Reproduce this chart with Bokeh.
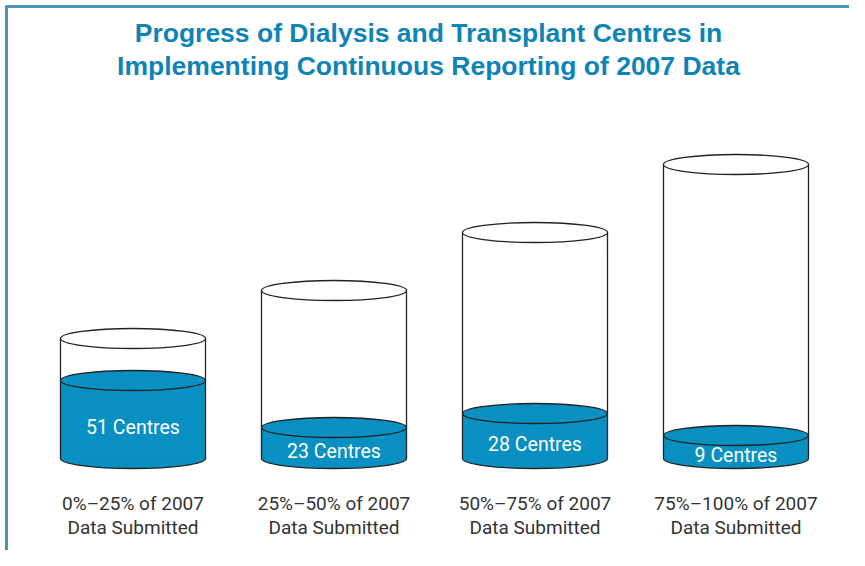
from bokeh.plotting import figure
from bokeh.models import Range1d
from bokeh.core.properties import value
from bokeh.embed import file_html
from bokeh.resources import INLINE

# ---- data ----
categories = ["0%–25% of 2007", "25%–50% of 2007", "50%–75% of 2007", "75%–100% of 2007"]
sub_label = "Data Submitted"
centres = [51, 23, 28, 9]
fill_level = [78, 31, 45, 23]        # height of blue liquid
tank_height = [120, 168, 226, 294]   # height of each cylinder
title_lines = ["Progress of Dialysis and Transplant Centres in",
               "Implementing Continuous Reporting of 2007 Data"]

# ---- styling ----
BLUE = "#0790C1"
TITLE_BLUE = "#0E84B6"
FRAME = "#4B93B4"
INK = "#222222"
TEXT = "#333333"
NARROW = value("Roboto")

W, H = 849, 550
TOP = 458
p = figure(width=W, height=H, output_backend="svg", toolbar_location=None,
           x_range=Range1d(0, W), y_range=Range1d(TOP - H, TOP),
           min_border=0)
p.axis.visible = False
p.grid.visible = False
p.outline_line_color = None
p.background_fill_color = "white"
p.border_fill_color = "white"

n = len(centres)
xs = [132.5 + i * 201 for i in range(n)]
cw = 145
eh = 20
half = cw / 2

# frame lines (top and left)
p.segment(x0=[6, 6], y0=[TOP - H, TOP - 6], x1=[6, W], y1=[TOP - 5, TOP - 6],
          line_color=FRAME, line_width=3)

# bottom ellipses
p.ellipse(x=xs, y=[0] * n, width=cw, height=eh, fill_color=BLUE,
          line_color=INK, line_width=1.3)
# liquid body
p.quad(left=[x - half for x in xs], right=[x + half for x in xs],
       bottom=[0] * n, top=fill_level, fill_color=BLUE, line_color=None)
# liquid surface
p.ellipse(x=xs, y=fill_level, width=cw, height=eh, fill_color=BLUE,
          line_color=INK, line_width=1.3)
# sides
p.segment(x0=[x - half for x in xs], y0=[0] * n, x1=[x - half for x in xs],
          y1=tank_height, line_color=INK, line_width=1.3)
p.segment(x0=[x + half for x in xs], y0=[0] * n, x1=[x + half for x in xs],
          y1=tank_height, line_color=INK, line_width=1.3)
# top ellipse
p.ellipse(x=xs, y=tank_height, width=cw, height=eh, fill_color="white",
          line_color=INK, line_width=1.3)

# centre labels
p.text(x=xs, y=[f / 2 - 8 for f in fill_level],
       text=[f"{c} Centres" for c in centres],
       text_font=NARROW, text_font_size="19.5px", text_color="white",
       text_align="center", text_baseline="alphabetic")

# category labels
p.text(x=xs, y=[-45] * n, text=categories, text_font=NARROW,
       text_font_size="19px", text_color=TEXT, text_align="center",
       text_baseline="alphabetic")
p.text(x=xs, y=[-69] * n, text=[sub_label] * n, text_font=NARROW,
       text_font_size="19px", text_color=TEXT, text_align="center",
       text_baseline="alphabetic")

# title
p.text(x=[428, 428], y=[TOP - 32, TOP - 65], text=title_lines,
       text_font=value("Liberation Sans"), text_font_style="bold",
       text_font_size="26.5px", text_color=TITLE_BLUE, text_align="center",
       text_baseline="alphabetic")

open("out.html", "w").write(file_html(p, INLINE))
